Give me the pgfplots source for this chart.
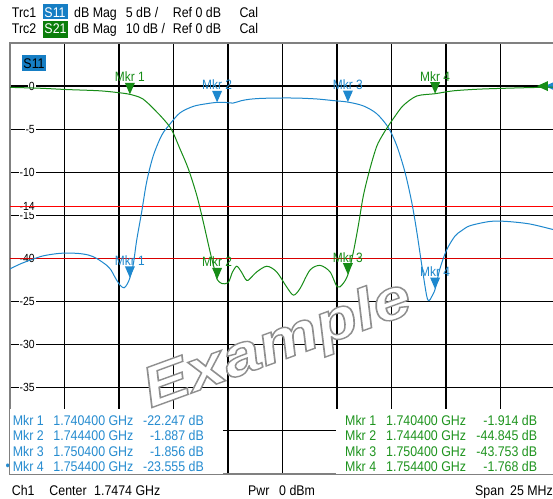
\documentclass[border=0pt]{standalone}
\usepackage{pgfplots}
\usepackage{pgfplotstable}
\pgfplotsset{compat=1.18}
\usepackage{fontspec}
\setmainfont{Liberation Sans}[FakeStretch=0.885]
\newfontfamily\wmfont{Liberation Sans}
\definecolor{sblue}{RGB}{30,136,206}
\definecolor{sgreen}{RGB}{22,140,22}
\definecolor{tblue}{RGB}{38,140,208}
\definecolor{tgreen}{RGB}{30,148,30}
\definecolor{bgreen}{RGB}{10,125,10}
\definecolor{bblue}{RGB}{22,126,196}
\newcommand\tf{\fontsize{14bp}{16bp}\selectfont}
\newcommand\tickf{\fontsize{11.8bp}{13bp}\selectfont}
\newcommand\mkf{\fontsize{13.5bp}{15bp}\selectfont}
\newcommand\defmk[3]{\pgfdeclareplotmark{#1}{%
  \pgfpathmoveto{\pgfpointorigin}\pgfpathlineto{\pgfpoint{-5bp}{11.5bp}}%
  \pgfpathlineto{\pgfpoint{5bp}{11.5bp}}\pgfpathclose\pgfusepathqfill
  \pgftext[bottom,at={\pgfpoint{0bp}{12.5bp}}]{\mkf\color{#2}#3}}}
\defmk{mb1}{sblue}{Mkr 1}\defmk{mb2}{sblue}{Mkr 2}\defmk{mb3}{sblue}{Mkr 3}\defmk{mb4}{sblue}{Mkr 4}
\defmk{mg1}{sgreen}{Mkr 1}\defmk{mg2}{sgreen}{Mkr 2}\defmk{mg3}{sgreen}{Mkr 3}\defmk{mg4}{sgreen}{Mkr 4}
\pgfdeclareplotmark{reftri}{\pgfpathmoveto{\pgfpointorigin}\pgfpathlineto{\pgfpoint{11bp}{5bp}}%
  \pgfpathlineto{\pgfpoint{11bp}{-5bp}}\pgfpathclose\pgfusepathqfill}

\pgfplotstableread{
f db
1734.90 -21.2
1735.40 -20.6
1735.82 -20.2
1736.41 -19.7
1737.20 -19.4
1737.96 -19.4
1738.50 -19.6
1738.88 -20.0
1739.34 -20.8
1739.55 -21.4
1739.72 -22.2
1739.95 -23.1
1740.13 -23.4
1740.27 -23.0
1740.40 -22.247
1740.56 -20.6
1740.71 -17.9
1740.94 -14.6
1741.17 -11.1
1741.47 -8.1
1741.86 -5.7
1742.24 -4.4
1742.70 -3.1
1743.31 -2.35
1743.90 -2.05
1744.40 -1.887
1744.80 -1.90
1745.13 -1.97
1745.50 -1.70
1745.91 -1.52
1746.50 -1.42
1747.50 -1.38
1748.20 -1.40
1749.00 -1.50
1749.72 -1.68
1750.40 -1.856
1751.11 -2.3
1751.72 -3.2
1752.25 -4.8
1752.64 -6.9
1753.02 -10.0
1753.33 -13.5
1753.56 -16.9
1753.79 -20.8
1754.01 -24.3
1754.12 -24.9
1754.25 -24.4
1754.40 -23.555
1754.62 -21.2
1754.93 -19.0
1755.31 -17.4
1755.60 -16.8
1756.00 -16.2
1756.92 -15.7
1757.68 -15.7
1758.75 -16.0
1759.90 -16.7
}\sone

\pgfplotstableread{
f db
1734.90 -0.3
1736.28 -0.5
1737.50 -0.8
1739.03 -1.1
1740.00 -1.6
1740.40 -1.914
1740.80 -2.5
1741.00 -3.0
1741.32 -4.4
1741.63 -6.0
1741.93 -7.6
1742.31 -10.1
1742.70 -14.6
1743.08 -19.2
1743.47 -25.4
1743.77 -31.6
1744.08 -38.5
1744.31 -43.1
1744.40 -44.845
1744.61 -45.8
1744.91 -45.6
1745.10 -43.2
1745.30 -41.8
1745.50 -43.0
1745.76 -45.1
1746.00 -44.2
1746.22 -43.1
1746.68 -41.8
1747.13 -43.1
1747.59 -46.6
1747.90 -48.5
1748.20 -47.0
1748.66 -42.7
1749.12 -41.6
1749.58 -43.1
1749.91 -46.6
1750.15 -46.0
1750.40 -43.753
1750.65 -38.5
1750.88 -32.3
1751.11 -25.4
1751.41 -19.2
1751.72 -14.0
1752.01 -11.2
1752.30 -8.9
1752.56 -7.0
1752.94 -4.5
1753.56 -2.3
1754.40 -1.768
1755.24 -1.1
1756.46 -0.7
1758.00 -0.45
1759.21 -0.3
1759.90 -0.25
}\stwo

\begin{document}
\begin{tikzpicture}[x=1bp,y=1bp]
\useasboundingbox (0,0) rectangle (553,499);
\clip (0,0) rectangle (553,499);
\fill[white] (0,0) rectangle (553,499);

\begin{axis}[
  at={(10bp,25bp)}, anchor=south west, scale only axis,
  width=545bp, height=431bp,
  xmin=1734.9, xmax=1759.9, ymin=-45, ymax=5,
  xtick={1737.4,1739.9,1742.4,1744.9,1747.4,1749.9,1752.4,1754.9,1757.4},
  xticklabels={},
  ytick={-40,-35,-30,-25,-20,-15,-10,-5,0},
  yticklabels={,-35,-30,-25,,-15,-10,-5,0},
  extra y ticks={-14,-20}, extra y tick labels={-14,-40},
  extra y tick style={grid=none, tick label style={text=red}},
  major tick length=0pt,
  grid=major, major grid style={black, line width=1.2bp},
  axis line style={draw=gray, line width=1.3bp},
  yticklabel style={anchor=east, xshift=26bp, fill=white, inner sep=1bp, font=\tickf, text=black},
  /pgf/number format/assume math mode=true,
]
\addplot[red, line width=0.9bp, forget plot] coordinates {(1734.9,-14) (1759.9,-14)};
\addplot[red!85!black, line width=0.9bp, forget plot] coordinates {(1734.9,-20) (1759.9,-20)};
\addplot[sblue, line width=1bp, smooth, tension=0.5, no marks] table[x=f,y=db] {\sone};
\addplot[sblue, only marks, mark=mb1] coordinates {(1740.4,-22.247)};
\addplot[sblue, only marks, mark=mb2] coordinates {(1744.4,-1.887)};
\addplot[sblue, only marks, mark=mb3] coordinates {(1750.4,-1.856)};
\addplot[sblue, only marks, mark=mb4] coordinates {(1754.4,-23.555)};
\addplot[sblue, only marks, mark=reftri, clip mode=individual] coordinates {(1759.44,0)};
\end{axis}

\begin{axis}[
  at={(10bp,25bp)}, anchor=south west, scale only axis,
  width=545bp, height=431bp,
  xmin=1734.9, xmax=1759.9, ymin=-90, ymax=10,
  hide axis,
]
\addplot[sgreen, line width=1bp, smooth, tension=0.5, no marks] table[x=f,y=db] {\stwo};
\addplot[sgreen, only marks, mark=mg1] coordinates {(1740.4,-1.914)};
\addplot[sgreen, only marks, mark=mg2] coordinates {(1744.4,-44.845)};
\addplot[sgreen, only marks, mark=mg3] coordinates {(1750.4,-43.753)};
\addplot[sgreen, only marks, mark=mg4] coordinates {(1754.4,-1.768)};
\addplot[sgreen, only marks, mark=reftri] coordinates {(1759.07,0)};
\end{axis}

% S11 label in plot
\fill[bblue] (22,428.3) rectangle (45.7,444);
\node[anchor=base west, inner sep=0, font=\tf] at (23.3,430.5) {S11};

% header
\fill[bblue] (42.7,479.7) rectangle (68.3,495);
\fill[bgreen] (42.7,460.7) rectangle (68.3,478.3);
\begin{scope}[every node/.style={anchor=base west, inner sep=0, font=\tf}]
\node at (11.7,481) {Trc1};
\node[text=white] at (44.3,481) {S11};
\node at (74,481) {dB Mag};
\node at (125.7,481) {5 dB /};
\node at (172.7,481) {Ref 0 dB};
\node at (239.3,481) {Cal};
\node at (11.7,465) {Trc2};
\node[text=white] at (44.3,465) {S21};
\node at (74,465) {dB Mag};
\node at (125.7,465) {10 dB /};
\node at (172.7,465) {Ref 0 dB};
\node at (239.3,465) {Cal};
% footer
\node at (11.7,3.5) {Ch1};
\node at (49.3,3.5) {Center};
\node at (94,3.5) {1.7474 GHz};
\node at (248,3.5) {Pwr};
\node at (279,3.5) {0 dBm};
\node at (475,3.5) {Span};
\node at (510,3.5) {25 MHz};
\end{scope}

% watermark
\node[rotate=20, xscale=1.2, inner sep=0, font=\wmfont\fontsize{57bp}{57bp}\selectfont\bfseries\itshape] at (278,153)
  {\special{pdf:literal direct 1 g 0.56 G 2 Tr 1.4 w}Example\special{pdf:literal direct 0 Tr 0 g 0 G}};

% marker tables
\fill[white] (10,25) rectangle (223,90);
\fill[white] (335.5,25) rectangle (553,90);
\begin{scope}[every node/.style={inner sep=0, font=\tf}]
\foreach \y/\m/\fr/\v in {73.5/1/1.740400/-22.247, 58/2/1.744400/-1.887, 42.5/3/1.750400/-1.856, 27/4/1.754400/-23.555}{
  \node[anchor=base west, text=tblue] at (12.7,\y) {Mkr \m};
  \node[anchor=base west, text=tblue] at (53.3,\y) {\fr\ GHz};
  \node[anchor=base east, text=tblue] at (204,\y) {\v\ dB};
}
\node[anchor=base west, text=tblue] at (5.5,28) {•};
\foreach \y/\m/\fr/\v in {73.5/1/1.740400/-1.914, 58/2/1.744400/-44.845, 42.5/3/1.750400/-43.753, 27/4/1.754400/-1.768}{
  \node[anchor=base west, text=tgreen] at (345,\y) {Mkr \m};
  \node[anchor=base west, text=tgreen] at (386,\y) {\fr\ GHz};
  \node[anchor=base east, text=tgreen] at (537.3,\y) {\v\ dB};
}
\end{scope}
\end{tikzpicture}
\end{document}
